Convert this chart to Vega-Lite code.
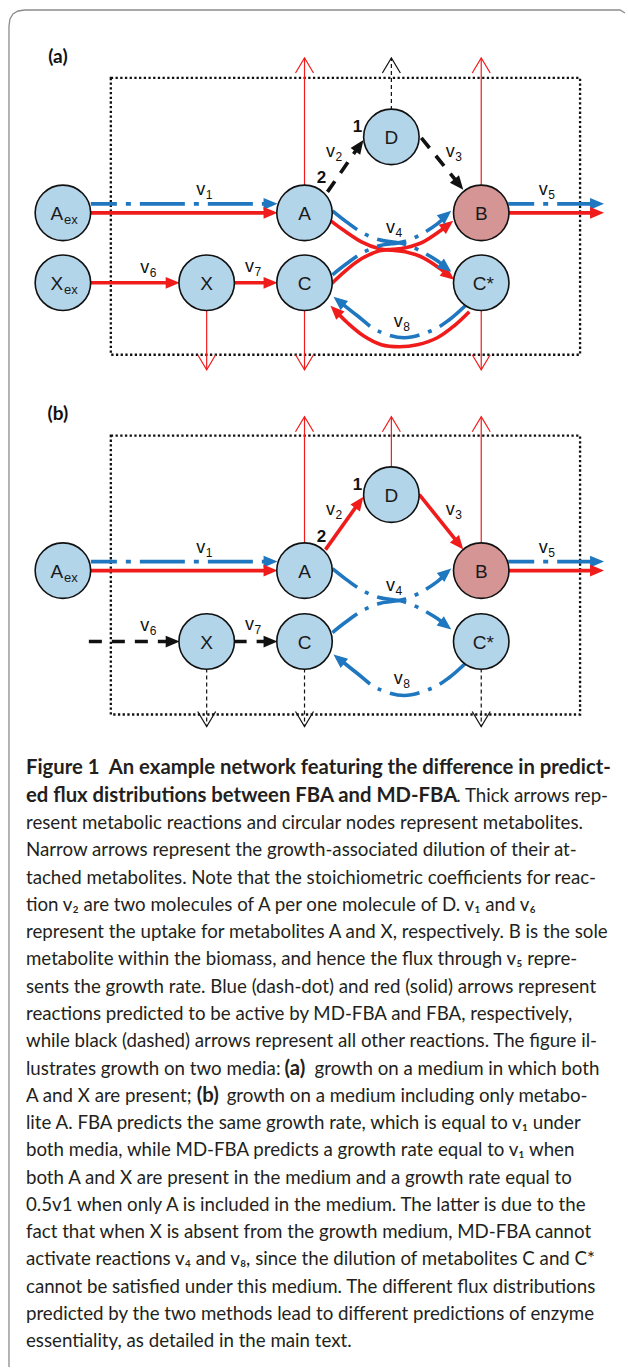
{
  "$schema": "https://vega.github.io/schema/vega-lite/v6.json",
  "width": 628,
  "height": 1370,
  "autosize": {"type": "fit", "contains": "padding"},
  "padding": 0,
  "background": "#ffffff",
  "config": {"view": {"stroke": null}},
  "datasets": {
    "border": [
      {"o": 0, "x": 9, "y": 1368}, {"o": 1, "x": 9, "y": 26}, {"o": 2, "x": 10, "y": 19},
      {"o": 3, "x": 13, "y": 14}, {"o": 4, "x": 18, "y": 11}, {"o": 5, "x": 25, "y": 10},
      {"o": 6, "x": 621, "y": 10}, {"o": 7, "x": 626, "y": 13}
    ],
    "boxes": [
      {"panel": "a", "x": 111, "y": 78, "x2": 581, "y2": 355},
      {"panel": "b", "x": 111, "y": 436, "x2": 581, "y2": 715}
    ],
    "thin": [
      {"panel": "a", "node": "A", "method": "FBA", "dir": "up", "x": 305, "y": 186, "x2": 305, "y2": 58},
      {"panel": "a", "node": "B", "method": "FBA", "dir": "up", "x": 482, "y": 186, "x2": 482, "y2": 58},
      {"panel": "a", "node": "D", "method": "other", "dir": "up", "x": 392, "y": 110, "x2": 392, "y2": 58},
      {"panel": "a", "node": "X", "method": "FBA", "dir": "down", "x": 207, "y": 310, "x2": 207, "y2": 370},
      {"panel": "a", "node": "C", "method": "FBA", "dir": "down", "x": 305, "y": 310, "x2": 305, "y2": 370},
      {"panel": "a", "node": "C*", "method": "FBA", "dir": "down", "x": 482, "y": 310, "x2": 482, "y2": 370},
      {"panel": "b", "node": "A", "method": "FBA", "dir": "up", "x": 305, "y": 544, "x2": 305, "y2": 417},
      {"panel": "b", "node": "D", "method": "FBA", "dir": "up", "x": 392, "y": 468, "x2": 392, "y2": 417},
      {"panel": "b", "node": "B", "method": "FBA", "dir": "up", "x": 482, "y": 544, "x2": 482, "y2": 417},
      {"panel": "b", "node": "X", "method": "other", "dir": "down", "x": 207, "y": 669, "x2": 207, "y2": 727},
      {"panel": "b", "node": "C", "method": "other", "dir": "down", "x": 305, "y": 669, "x2": 305, "y2": 727},
      {"panel": "b", "node": "C*", "method": "other", "dir": "down", "x": 482, "y": 669, "x2": 482, "y2": 727}
    ],
    "rxn": [
      {"panel": "a", "rxn": "v1", "method": "MD-FBA", "x": 91, "y": 204, "x2": 272, "y2": 204},
      {"panel": "a", "rxn": "v1", "method": "FBA", "x": 91, "y": 213, "x2": 272, "y2": 213},
      {"panel": "a", "rxn": "v5", "method": "MD-FBA", "x": 509, "y": 204, "x2": 599, "y2": 204},
      {"panel": "a", "rxn": "v5", "method": "FBA", "x": 509, "y": 213, "x2": 599, "y2": 213},
      {"panel": "a", "rxn": "v6", "method": "FBA", "x": 91, "y": 283, "x2": 174, "y2": 283},
      {"panel": "a", "rxn": "v7", "method": "FBA", "x": 234, "y": 283, "x2": 272, "y2": 283},
      {"panel": "a", "rxn": "v2", "method": "other", "x": 328, "y": 192, "x2": 361, "y2": 144},
      {"panel": "a", "rxn": "v3", "method": "other", "x": 422, "y": 138, "x2": 461, "y2": 186},
      {"panel": "b", "rxn": "v1", "method": "MD-FBA", "x": 91, "y": 562, "x2": 272, "y2": 562},
      {"panel": "b", "rxn": "v1", "method": "FBA", "x": 91, "y": 571, "x2": 272, "y2": 571},
      {"panel": "b", "rxn": "v5", "method": "MD-FBA", "x": 509, "y": 562, "x2": 599, "y2": 562},
      {"panel": "b", "rxn": "v5", "method": "FBA", "x": 509, "y": 571, "x2": 599, "y2": 571},
      {"panel": "b", "rxn": "v6", "method": "other", "x": 89, "y": 642, "x2": 174, "y2": 642},
      {"panel": "b", "rxn": "v7", "method": "other", "x": 234, "y": 642, "x2": 272, "y2": 642},
      {"panel": "b", "rxn": "v2", "method": "FBA", "x": 326, "y": 550, "x2": 361, "y2": 501},
      {"panel": "b", "rxn": "v3", "method": "FBA", "x": 420, "y": 495, "x2": 461, "y2": 546}
    ],
    "curves": [
      {"id": "a-v4-red-1", "rxn": "v4", "method": "FBA", "o": 0, "x": 330, "y": 220},
      {"id": "a-v4-red-1", "rxn": "v4", "method": "FBA", "o": 1, "x": 345, "y": 231},
      {"id": "a-v4-red-1", "rxn": "v4", "method": "FBA", "o": 2, "x": 362, "y": 242},
      {"id": "a-v4-red-1", "rxn": "v4", "method": "FBA", "o": 3, "x": 380, "y": 249},
      {"id": "a-v4-red-1", "rxn": "v4", "method": "FBA", "o": 4, "x": 393, "y": 250.5},
      {"id": "a-v4-red-1", "rxn": "v4", "method": "FBA", "o": 5, "x": 406, "y": 252},
      {"id": "a-v4-red-1", "rxn": "v4", "method": "FBA", "o": 6, "x": 424, "y": 258},
      {"id": "a-v4-red-1", "rxn": "v4", "method": "FBA", "o": 7, "x": 441, "y": 269},
      {"id": "a-v4-red-1", "rxn": "v4", "method": "FBA", "o": 8, "x": 451, "y": 277},
      {"id": "a-v4-red-2", "rxn": "v4", "method": "FBA", "o": 0, "x": 332, "y": 284},
      {"id": "a-v4-red-2", "rxn": "v4", "method": "FBA", "o": 1, "x": 346, "y": 271},
      {"id": "a-v4-red-2", "rxn": "v4", "method": "FBA", "o": 2, "x": 362, "y": 259},
      {"id": "a-v4-red-2", "rxn": "v4", "method": "FBA", "o": 3, "x": 380, "y": 251},
      {"id": "a-v4-red-2", "rxn": "v4", "method": "FBA", "o": 4, "x": 393, "y": 249.5},
      {"id": "a-v4-red-2", "rxn": "v4", "method": "FBA", "o": 5, "x": 406, "y": 248},
      {"id": "a-v4-red-2", "rxn": "v4", "method": "FBA", "o": 6, "x": 424, "y": 242},
      {"id": "a-v4-red-2", "rxn": "v4", "method": "FBA", "o": 7, "x": 441, "y": 231},
      {"id": "a-v4-red-2", "rxn": "v4", "method": "FBA", "o": 8, "x": 450, "y": 224},
      {"id": "a-v8-red", "rxn": "v8", "method": "FBA", "o": 0, "x": 470, "y": 312},
      {"id": "a-v8-red", "rxn": "v8", "method": "FBA", "o": 1, "x": 455, "y": 326},
      {"id": "a-v8-red", "rxn": "v8", "method": "FBA", "o": 2, "x": 438, "y": 338},
      {"id": "a-v8-red", "rxn": "v8", "method": "FBA", "o": 3, "x": 418, "y": 345},
      {"id": "a-v8-red", "rxn": "v8", "method": "FBA", "o": 4, "x": 400, "y": 347},
      {"id": "a-v8-red", "rxn": "v8", "method": "FBA", "o": 5, "x": 382, "y": 345},
      {"id": "a-v8-red", "rxn": "v8", "method": "FBA", "o": 6, "x": 364, "y": 336},
      {"id": "a-v8-red", "rxn": "v8", "method": "FBA", "o": 7, "x": 348, "y": 323},
      {"id": "a-v8-red", "rxn": "v8", "method": "FBA", "o": 8, "x": 335, "y": 310},
      {"id": "a-v4-blue-1", "rxn": "v4", "method": "MD-FBA", "o": 0, "x": 333, "y": 211},
      {"id": "a-v4-blue-1", "rxn": "v4", "method": "MD-FBA", "o": 1, "x": 347, "y": 222},
      {"id": "a-v4-blue-1", "rxn": "v4", "method": "MD-FBA", "o": 2, "x": 363, "y": 233},
      {"id": "a-v4-blue-1", "rxn": "v4", "method": "MD-FBA", "o": 3, "x": 380, "y": 240},
      {"id": "a-v4-blue-1", "rxn": "v4", "method": "MD-FBA", "o": 4, "x": 392, "y": 242},
      {"id": "a-v4-blue-1", "rxn": "v4", "method": "MD-FBA", "o": 5, "x": 404, "y": 244},
      {"id": "a-v4-blue-1", "rxn": "v4", "method": "MD-FBA", "o": 6, "x": 421, "y": 251},
      {"id": "a-v4-blue-1", "rxn": "v4", "method": "MD-FBA", "o": 7, "x": 438, "y": 261},
      {"id": "a-v4-blue-1", "rxn": "v4", "method": "MD-FBA", "o": 8, "x": 448, "y": 269},
      {"id": "a-v4-blue-2", "rxn": "v4", "method": "MD-FBA", "o": 0, "x": 333, "y": 275},
      {"id": "a-v4-blue-2", "rxn": "v4", "method": "MD-FBA", "o": 1, "x": 347, "y": 264},
      {"id": "a-v4-blue-2", "rxn": "v4", "method": "MD-FBA", "o": 2, "x": 363, "y": 253},
      {"id": "a-v4-blue-2", "rxn": "v4", "method": "MD-FBA", "o": 3, "x": 380, "y": 246},
      {"id": "a-v4-blue-2", "rxn": "v4", "method": "MD-FBA", "o": 4, "x": 392, "y": 244},
      {"id": "a-v4-blue-2", "rxn": "v4", "method": "MD-FBA", "o": 5, "x": 404, "y": 242},
      {"id": "a-v4-blue-2", "rxn": "v4", "method": "MD-FBA", "o": 6, "x": 421, "y": 235},
      {"id": "a-v4-blue-2", "rxn": "v4", "method": "MD-FBA", "o": 7, "x": 438, "y": 224},
      {"id": "a-v4-blue-2", "rxn": "v4", "method": "MD-FBA", "o": 8, "x": 448, "y": 215},
      {"id": "a-v8-blue", "rxn": "v8", "method": "MD-FBA", "o": 0, "x": 466, "y": 306},
      {"id": "a-v8-blue", "rxn": "v8", "method": "MD-FBA", "o": 1, "x": 450, "y": 320},
      {"id": "a-v8-blue", "rxn": "v8", "method": "MD-FBA", "o": 2, "x": 432, "y": 331},
      {"id": "a-v8-blue", "rxn": "v8", "method": "MD-FBA", "o": 3, "x": 405, "y": 338},
      {"id": "a-v8-blue", "rxn": "v8", "method": "MD-FBA", "o": 4, "x": 378, "y": 331},
      {"id": "a-v8-blue", "rxn": "v8", "method": "MD-FBA", "o": 5, "x": 358, "y": 316},
      {"id": "a-v8-blue", "rxn": "v8", "method": "MD-FBA", "o": 6, "x": 338, "y": 300},
      {"id": "b-v4-blue-1", "rxn": "v4", "method": "MD-FBA", "o": 0, "x": 333, "y": 569},
      {"id": "b-v4-blue-1", "rxn": "v4", "method": "MD-FBA", "o": 1, "x": 347, "y": 580},
      {"id": "b-v4-blue-1", "rxn": "v4", "method": "MD-FBA", "o": 2, "x": 363, "y": 591},
      {"id": "b-v4-blue-1", "rxn": "v4", "method": "MD-FBA", "o": 3, "x": 380, "y": 598},
      {"id": "b-v4-blue-1", "rxn": "v4", "method": "MD-FBA", "o": 4, "x": 392, "y": 600},
      {"id": "b-v4-blue-1", "rxn": "v4", "method": "MD-FBA", "o": 5, "x": 404, "y": 602},
      {"id": "b-v4-blue-1", "rxn": "v4", "method": "MD-FBA", "o": 6, "x": 421, "y": 609},
      {"id": "b-v4-blue-1", "rxn": "v4", "method": "MD-FBA", "o": 7, "x": 438, "y": 619},
      {"id": "b-v4-blue-1", "rxn": "v4", "method": "MD-FBA", "o": 8, "x": 448, "y": 627},
      {"id": "b-v4-blue-2", "rxn": "v4", "method": "MD-FBA", "o": 0, "x": 333, "y": 633},
      {"id": "b-v4-blue-2", "rxn": "v4", "method": "MD-FBA", "o": 1, "x": 347, "y": 622},
      {"id": "b-v4-blue-2", "rxn": "v4", "method": "MD-FBA", "o": 2, "x": 363, "y": 611},
      {"id": "b-v4-blue-2", "rxn": "v4", "method": "MD-FBA", "o": 3, "x": 380, "y": 604},
      {"id": "b-v4-blue-2", "rxn": "v4", "method": "MD-FBA", "o": 4, "x": 392, "y": 602},
      {"id": "b-v4-blue-2", "rxn": "v4", "method": "MD-FBA", "o": 5, "x": 404, "y": 600},
      {"id": "b-v4-blue-2", "rxn": "v4", "method": "MD-FBA", "o": 6, "x": 421, "y": 593},
      {"id": "b-v4-blue-2", "rxn": "v4", "method": "MD-FBA", "o": 7, "x": 438, "y": 582},
      {"id": "b-v4-blue-2", "rxn": "v4", "method": "MD-FBA", "o": 8, "x": 448, "y": 573},
      {"id": "b-v8-blue", "rxn": "v8", "method": "MD-FBA", "o": 0, "x": 466, "y": 664},
      {"id": "b-v8-blue", "rxn": "v8", "method": "MD-FBA", "o": 1, "x": 450, "y": 678},
      {"id": "b-v8-blue", "rxn": "v8", "method": "MD-FBA", "o": 2, "x": 432, "y": 689},
      {"id": "b-v8-blue", "rxn": "v8", "method": "MD-FBA", "o": 3, "x": 405, "y": 696},
      {"id": "b-v8-blue", "rxn": "v8", "method": "MD-FBA", "o": 4, "x": 378, "y": 689},
      {"id": "b-v8-blue", "rxn": "v8", "method": "MD-FBA", "o": 5, "x": 358, "y": 674},
      {"id": "b-v8-blue", "rxn": "v8", "method": "MD-FBA", "o": 6, "x": 338, "y": 658}
    ],
    "heads": [
      {"rxn": "v1", "method": "MD-FBA", "x": 278, "y": 204, "ang": 0},
      {"rxn": "v1", "method": "FBA", "x": 278, "y": 213, "ang": 0},
      {"rxn": "v5", "method": "MD-FBA", "x": 605, "y": 204, "ang": 0},
      {"rxn": "v5", "method": "FBA", "x": 605, "y": 213, "ang": 0},
      {"rxn": "v6", "method": "FBA", "x": 180, "y": 283, "ang": 0},
      {"rxn": "v7", "method": "FBA", "x": 278, "y": 283, "ang": 0},
      {"rxn": "v2", "method": "other", "x": 364, "y": 140, "ang": -55},
      {"rxn": "v3", "method": "other", "x": 464, "y": 190, "ang": 51},
      {"rxn": "v4", "method": "FBA", "x": 455, "y": 280, "ang": 38},
      {"rxn": "v4", "method": "FBA", "x": 454, "y": 221, "ang": -38},
      {"rxn": "v4", "method": "MD-FBA", "x": 452, "y": 272, "ang": 38},
      {"rxn": "v4", "method": "MD-FBA", "x": 452, "y": 211, "ang": -40},
      {"rxn": "v8", "method": "FBA", "x": 331, "y": 306, "ang": -135},
      {"rxn": "v8", "method": "MD-FBA", "x": 334, "y": 297, "ang": -141},
      {"rxn": "v1", "method": "MD-FBA", "x": 278, "y": 562, "ang": 0},
      {"rxn": "v1", "method": "FBA", "x": 278, "y": 571, "ang": 0},
      {"rxn": "v5", "method": "MD-FBA", "x": 605, "y": 562, "ang": 0},
      {"rxn": "v5", "method": "FBA", "x": 605, "y": 571, "ang": 0},
      {"rxn": "v6", "method": "other", "x": 180, "y": 642, "ang": 0},
      {"rxn": "v7", "method": "other", "x": 278, "y": 642, "ang": 0},
      {"rxn": "v2", "method": "FBA", "x": 364, "y": 497, "ang": -54},
      {"rxn": "v3", "method": "FBA", "x": 464, "y": 550, "ang": 51},
      {"rxn": "v4", "method": "MD-FBA", "x": 452, "y": 630, "ang": 38},
      {"rxn": "v4", "method": "MD-FBA", "x": 452, "y": 569, "ang": -40},
      {"rxn": "v8", "method": "MD-FBA", "x": 334, "y": 655, "ang": -141}
    ],
    "nodes": [
      {"panel": "a", "name": "Aex", "role": "metabolite", "x": 63, "y": 213},
      {"panel": "a", "name": "A", "role": "metabolite", "x": 305, "y": 213},
      {"panel": "a", "name": "B", "role": "biomass", "x": 482, "y": 213},
      {"panel": "a", "name": "D", "role": "metabolite", "x": 392, "y": 137},
      {"panel": "a", "name": "Xex", "role": "metabolite", "x": 63, "y": 283},
      {"panel": "a", "name": "X", "role": "metabolite", "x": 207, "y": 283},
      {"panel": "a", "name": "C", "role": "metabolite", "x": 305, "y": 283},
      {"panel": "a", "name": "C*", "role": "metabolite", "x": 482, "y": 283},
      {"panel": "b", "name": "Aex", "role": "metabolite", "x": 63, "y": 571},
      {"panel": "b", "name": "A", "role": "metabolite", "x": 305, "y": 571},
      {"panel": "b", "name": "B", "role": "biomass", "x": 482, "y": 571},
      {"panel": "b", "name": "D", "role": "metabolite", "x": 392, "y": 495},
      {"panel": "b", "name": "X", "role": "metabolite", "x": 207, "y": 642},
      {"panel": "b", "name": "C", "role": "metabolite", "x": 305, "y": 642},
      {"panel": "b", "name": "C*", "role": "metabolite", "x": 482, "y": 642}
    ],
    "nodelabels": [
      {"t": "A", "x": 57, "y": 213}, {"t": "A", "x": 305, "y": 213}, {"t": "B", "x": 482, "y": 213},
      {"t": "D", "x": 392, "y": 137}, {"t": "X", "x": 57, "y": 283}, {"t": "X", "x": 207, "y": 283},
      {"t": "C", "x": 305, "y": 283}, {"t": "C*", "x": 484, "y": 283},
      {"t": "A", "x": 57, "y": 571}, {"t": "A", "x": 305, "y": 571}, {"t": "B", "x": 482, "y": 571},
      {"t": "D", "x": 392, "y": 495}, {"t": "X", "x": 207, "y": 642}, {"t": "C", "x": 305, "y": 642},
      {"t": "C*", "x": 484, "y": 642}
    ],
    "nodesubs": [
      {"t": "ex", "x": 64, "y": 220}, {"t": "ex", "x": 64, "y": 290}, {"t": "ex", "x": 64, "y": 578}
    ],
    "rlab": [
      {"n": "1", "x": 201, "y": 190}, {"n": "2", "x": 331, "y": 152}, {"n": "3", "x": 451, "y": 152},
      {"n": "4", "x": 391, "y": 228}, {"n": "5", "x": 544, "y": 190}, {"n": "6", "x": 145, "y": 268},
      {"n": "7", "x": 250, "y": 267}, {"n": "8", "x": 399, "y": 322},
      {"n": "1", "x": 201, "y": 548}, {"n": "2", "x": 331, "y": 510}, {"n": "3", "x": 451, "y": 510},
      {"n": "4", "x": 391, "y": 586}, {"n": "5", "x": 544, "y": 548}, {"n": "6", "x": 145, "y": 626},
      {"n": "7", "x": 250, "y": 625}, {"n": "8", "x": 399, "y": 679}
    ],
    "stoich": [
      {"t": "2", "x": 322, "y": 178}, {"t": "1", "x": 358, "y": 127},
      {"t": "2", "x": 322, "y": 537}, {"t": "1", "x": 358, "y": 485}
    ],
    "panels": [
      {"t": "(a)", "x": 58, "y": 57}, {"t": "(b)", "x": 58, "y": 414}
    ],
    "caption": [
      {"line": 1, "w": "bold", "x": 26, "y": 775, "t": "Figure 1 \u00a0An example network featuring the difference in predict-"},
      {"line": 2, "w": "bold", "x": 26, "y": 802.3, "t": "ed flux distributions between FBA and MD-FBA"},
      {"line": 2, "w": "normal", "x": 457, "y": 802.3, "t": ". Thick arrows rep-"},
      {"line": 3, "w": "normal", "x": 26, "y": 829.6, "t": "resent metabolic reactions and circular nodes represent metabolites."},
      {"line": 4, "w": "normal", "x": 26, "y": 856.9, "t": "Narrow arrows represent the growth-associated dilution of their at-"},
      {"line": 5, "w": "normal", "x": 26, "y": 884.2, "t": "tached metabolites. Note that the stoichiometric coefficients for reac-"},
      {"line": 6, "w": "normal", "x": 26, "y": 911.5, "t": "tion v₂ are two molecules of A per one molecule of D. v₁ and v₆"},
      {"line": 7, "w": "normal", "x": 26, "y": 938.8, "t": "represent the uptake for metabolites A and X, respectively. B is the sole"},
      {"line": 8, "w": "normal", "x": 26, "y": 966.1, "t": "metabolite within the biomass, and hence the flux through v₅ repre-"},
      {"line": 9, "w": "normal", "x": 26, "y": 993.4, "t": "sents the growth rate. Blue (dash-dot) and red (solid) arrows represent"},
      {"line": 10, "w": "normal", "x": 26, "y": 1020.7, "t": "reactions predicted to be active by MD-FBA and FBA, respectively,"},
      {"line": 11, "w": "normal", "x": 26, "y": 1048, "t": "while black (dashed) arrows represent all other reactions. The figure il-"},
      {"line": 12, "w": "normal", "x": 26, "y": 1075.3, "t": "lustrates growth on two media:"},
      {"line": 12, "w": "bold", "x": 285, "y": 1075.3, "t": "(a)"},
      {"line": 12, "w": "normal", "x": 315, "y": 1075.3, "t": "growth on a medium in which both"},
      {"line": 13, "w": "normal", "x": 26, "y": 1102.6, "t": "A and X are present;"},
      {"line": 13, "w": "bold", "x": 197, "y": 1102.6, "t": "(b)"},
      {"line": 13, "w": "normal", "x": 227, "y": 1102.6, "t": "growth on a medium including only metabo-"},
      {"line": 14, "w": "normal", "x": 26, "y": 1129.9, "t": "lite A. FBA predicts the same growth rate, which is equal to v₁ under"},
      {"line": 15, "w": "normal", "x": 26, "y": 1157.2, "t": "both media, while MD-FBA predicts a growth rate equal to v₁ when"},
      {"line": 16, "w": "normal", "x": 26, "y": 1184.5, "t": "both A and X are present in the medium and a growth rate equal to"},
      {"line": 17, "w": "normal", "x": 26, "y": 1211.8, "t": "0.5v1 when only A is included in the medium. The latter is due to the"},
      {"line": 18, "w": "normal", "x": 26, "y": 1239.1, "t": "fact that when X is absent from the growth medium, MD-FBA cannot"},
      {"line": 19, "w": "normal", "x": 26, "y": 1266.4, "t": "activate reactions v₄ and v₈, since the dilution of metabolites C and C*"},
      {"line": 20, "w": "normal", "x": 26, "y": 1293.7, "t": "cannot be satisfied under this medium. The different flux distributions"},
      {"line": 21, "w": "normal", "x": 26, "y": 1321, "t": "predicted by the two methods lead to different predictions of enzyme"},
      {"line": 22, "w": "normal", "x": 26, "y": 1348.3, "t": "essentiality, as detailed in the main text."}
    ]
  },
  "encoding": {
    "x": {"field": "x", "type": "quantitative", "scale": {"domain": [0, 628], "nice": false, "zero": false}, "axis": null},
    "y": {"field": "y", "type": "quantitative", "scale": {"domain": [0, 1370], "reverse": true, "nice": false, "zero": false}, "axis": null}
  },
  "layer": [
    {
      "data": {"name": "border"},
      "mark": {"type": "line", "stroke": "#8c8c8c", "strokeWidth": 1.3},
      "encoding": {"order": {"field": "o", "type": "quantitative"}}
    },
    {
      "data": {"name": "boxes"},
      "mark": {"type": "rect", "filled": false, "stroke": "#111111", "strokeWidth": 2.3, "strokeDash": [2.3, 2.4]},
      "encoding": {"x2": {"field": "x2"}, "y2": {"field": "y2"}}
    },
    {
      "data": {"name": "thin"},
      "transform": [{"filter": "datum.method === 'FBA'"}],
      "mark": {"type": "rule", "strokeWidth": 1.2},
      "encoding": {
        "x2": {"field": "x2"}, "y2": {"field": "y2"},
        "color": {"field": "method", "type": "nominal", "scale": {"domain": ["FBA", "MD-FBA", "other"], "range": ["#f01c1c", "#1f77c0", "#111111"]}, "legend": null}
      }
    },
    {
      "data": {"name": "thin"},
      "transform": [{"filter": "datum.method === 'other'"}],
      "mark": {"type": "rule", "strokeWidth": 1.2, "strokeDash": [4, 3]},
      "encoding": {
        "x2": {"field": "x2"}, "y2": {"field": "y2"},
        "color": {"field": "method", "type": "nominal", "scale": {"domain": ["FBA", "MD-FBA", "other"], "range": ["#f01c1c", "#1f77c0", "#111111"]}, "legend": null}
      }
    },
    {
      "data": {"name": "thin"},
      "mark": {"type": "point", "filled": false, "strokeWidth": 1.2, "size": 900, "opacity": 1},
      "encoding": {
        "x": {"field": "x2", "type": "quantitative"},
        "y": {"field": "y2", "type": "quantitative"},
        "shape": {"field": "dir", "type": "nominal", "scale": {"domain": ["up", "down"], "range": ["M-0.6,1L0,0L0.6,1", "M-0.6,-1L0,0L0.6,-1"]}, "legend": null},
        "color": {"field": "method", "type": "nominal", "scale": {"domain": ["FBA", "MD-FBA", "other"], "range": ["#f01c1c", "#1f77c0", "#111111"]}, "legend": null}
      }
    },
    {
      "data": {"name": "rxn"},
      "transform": [{"filter": "datum.method === 'FBA'"}],
      "mark": {"type": "rule", "strokeWidth": 3.6},
      "encoding": {
        "x2": {"field": "x2"}, "y2": {"field": "y2"},
        "color": {"field": "method", "type": "nominal", "scale": {"domain": ["FBA", "MD-FBA", "other"], "range": ["#f01c1c", "#1f77c0", "#111111"]}, "legend": null}
      }
    },
    {
      "data": {"name": "rxn"},
      "transform": [{"filter": "datum.method === 'MD-FBA'"}],
      "mark": {"type": "rule", "strokeWidth": 3.6, "strokeDash": [45, 9, 5, 9], "strokeDashOffset": 19},
      "encoding": {
        "x2": {"field": "x2"}, "y2": {"field": "y2"},
        "color": {"field": "method", "type": "nominal", "scale": {"domain": ["FBA", "MD-FBA", "other"], "range": ["#f01c1c", "#1f77c0", "#111111"]}, "legend": null}
      }
    },
    {
      "data": {"name": "rxn"},
      "transform": [{"filter": "datum.method === 'other'"}],
      "mark": {"type": "rule", "strokeWidth": 3.6, "strokeDash": [13, 10]},
      "encoding": {
        "x2": {"field": "x2"}, "y2": {"field": "y2"},
        "color": {"field": "method", "type": "nominal", "scale": {"domain": ["FBA", "MD-FBA", "other"], "range": ["#f01c1c", "#1f77c0", "#111111"]}, "legend": null}
      }
    },
    {
      "data": {"name": "curves"},
      "transform": [{"filter": "datum.method === 'FBA'"}],
      "mark": {"type": "line", "strokeWidth": 3.6, "interpolate": "cardinal"},
      "encoding": {
        "detail": {"field": "id"},
        "order": {"field": "o", "type": "quantitative"},
        "color": {"field": "method", "type": "nominal", "scale": {"domain": ["FBA", "MD-FBA", "other"], "range": ["#f01c1c", "#1f77c0", "#111111"]}, "legend": null}
      }
    },
    {
      "data": {"name": "curves"},
      "transform": [{"filter": "datum.method === 'MD-FBA' && datum.rxn === 'v4'"}],
      "mark": {"type": "line", "strokeWidth": 3.6, "interpolate": "cardinal", "strokeDash": [31, 9, 4, 9, 30, 9, 4, 9, 80]},
      "encoding": {
        "detail": {"field": "id"},
        "order": {"field": "o", "type": "quantitative"},
        "color": {"field": "method", "type": "nominal", "scale": {"domain": ["FBA", "MD-FBA", "other"], "range": ["#f01c1c", "#1f77c0", "#111111"]}, "legend": null}
      }
    },
    {
      "data": {"name": "curves"},
      "transform": [{"filter": "datum.method === 'MD-FBA' && datum.rxn === 'v8'"}],
      "mark": {"type": "line", "strokeWidth": 3.6, "interpolate": "cardinal", "strokeDash": [33, 9, 4, 9, 30, 9, 4, 9, 80]},
      "encoding": {
        "detail": {"field": "id"},
        "order": {"field": "o", "type": "quantitative"},
        "color": {"field": "method", "type": "nominal", "scale": {"domain": ["FBA", "MD-FBA", "other"], "range": ["#f01c1c", "#1f77c0", "#111111"]}, "legend": null}
      }
    },
    {
      "data": {"name": "heads"},
      "mark": {"type": "point", "filled": true, "size": 784, "opacity": 1, "shape": "M0,0L-1,-0.42L-1,0.42Z"},
      "encoding": {
        "angle": {"field": "ang", "type": "quantitative", "scale": null},
        "color": {"field": "method", "type": "nominal", "scale": {"domain": ["FBA", "MD-FBA", "other"], "range": ["#f01c1c", "#1f77c0", "#111111"]}, "legend": null}
      }
    },
    {
      "data": {"name": "nodes"},
      "mark": {"type": "point", "shape": "circle", "filled": true, "size": 3080, "opacity": 1, "stroke": "#111111", "strokeWidth": 1.6},
      "encoding": {
        "fill": {"field": "role", "type": "nominal", "scale": {"domain": ["metabolite", "biomass"], "range": ["#b3d5ea", "#d69595"]}, "legend": null}
      }
    },
    {
      "data": {"name": "nodelabels"},
      "mark": {"type": "text", "font": "Liberation Sans", "fontSize": 19, "align": "center", "baseline": "middle", "fill": "#1a1a1a", "dy": 1},
      "encoding": {"text": {"field": "t"}}
    },
    {
      "data": {"name": "nodesubs"},
      "mark": {"type": "text", "font": "Liberation Sans", "fontSize": 13, "align": "left", "baseline": "middle", "fill": "#1a1a1a"},
      "encoding": {"text": {"field": "t"}}
    },
    {
      "data": {"name": "rlab"},
      "mark": {"type": "text", "font": "Liberation Sans", "fontSize": 18, "align": "center", "baseline": "middle", "fill": "#111111", "text": "v"},
      "encoding": {}
    },
    {
      "data": {"name": "rlab"},
      "mark": {"type": "text", "font": "Liberation Sans", "fontSize": 12, "align": "left", "baseline": "middle", "fill": "#111111", "dx": 5, "dy": 5},
      "encoding": {"text": {"field": "n"}}
    },
    {
      "data": {"name": "stoich"},
      "mark": {"type": "text", "font": "Liberation Sans", "fontSize": 17, "fontWeight": "bold", "align": "center", "baseline": "middle", "fill": "#111111"},
      "encoding": {"text": {"field": "t"}}
    },
    {
      "data": {"name": "panels"},
      "mark": {"type": "text", "font": "Lato", "fontSize": 19, "fontWeight": "bold", "align": "center", "baseline": "middle", "fill": "#111111"},
      "encoding": {"text": {"field": "t"}}
    },
    {
      "data": {"name": "caption"},
      "transform": [{"filter": "datum.w === 'bold'"}],
      "mark": {"type": "text", "font": "Lato", "fontSize": 20.3, "fontWeight": "bold", "align": "left", "baseline": "alphabetic", "fill": "#231f20"},
      "encoding": {"text": {"field": "t"}}
    },
    {
      "data": {"name": "caption"},
      "transform": [{"filter": "datum.w === 'normal'"}],
      "mark": {"type": "text", "font": "Lato", "fontSize": 18.7, "align": "left", "baseline": "alphabetic", "fill": "#231f20"},
      "encoding": {"text": {"field": "t"}}
    }
  ]
}
